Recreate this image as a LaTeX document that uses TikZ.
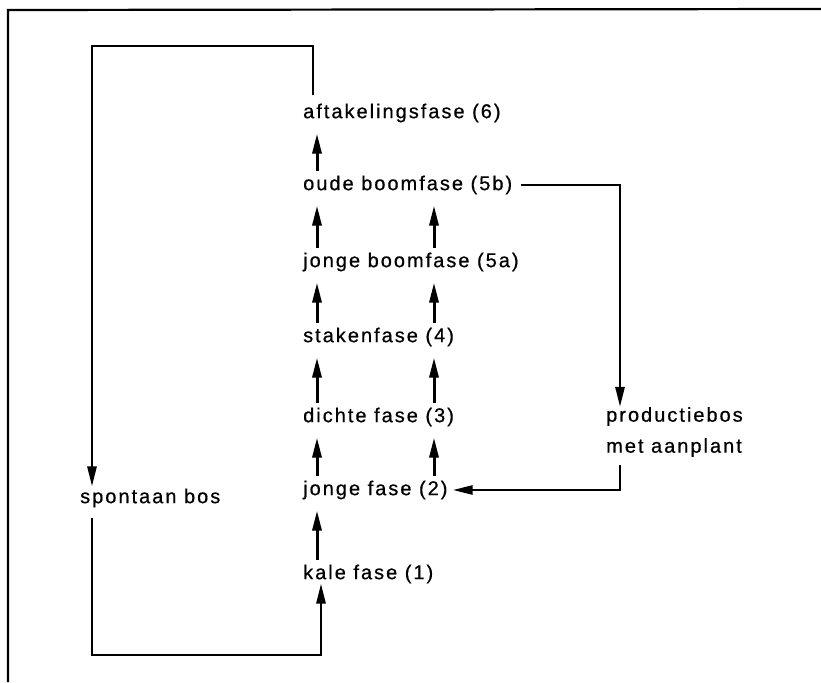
\documentclass[tikz,border=0pt]{standalone}
\usepackage{fontspec}
\setmainfont{Liberation Sans}[LetterSpace=10,FakeBold=0.6]
\usetikzlibrary{arrows.meta}
\begin{document}
\begin{tikzpicture}[x=1pt,y=1pt,
  lbl/.style={anchor=west,inner sep=0pt,font=\fontsize{20}{24}\selectfont},
  colarr/.style={line width=3pt,-{Triangle[length=20pt,width=9pt]},shorten <=4pt,shorten >=11pt},
  loopline/.style={line width=2.6pt},
  tipped/.style={-{Triangle[length=20pt,width=9pt]}}]
\useasboundingbox (0,0) rectangle (821,-682);
% frame
\draw[line width=2.2pt] (8,-682) -- (8,-10) -- (821,-9);
% labels
\node[lbl] (n6) at (303,-113) {aftakelingsfase (6)};
\node[lbl] (n5b) at (303,-185) {oude boomfase (5b)};
\node[lbl] (n5a) at (303,-262) {jonge boomfase (5a)};
\node[lbl] (n4) at (303,-337) {stakenfase (4)};
\node[lbl] (n3) at (303,-417) {dichte fase (3)};
\node[lbl] (n2) at (303,-490) {jonge fase (2)};
\node[lbl] (n1) at (303,-574) {kale fase (1)};
\node[lbl] (sp) at (80,-498) {spontaan bos};
\node[lbl,align=left,font=\fontsize{20}{31}\selectfont] (pr) at (606,-432) {productiebos\\met aanplant};
% column coordinates
\coordinate (c1) at (317,0);
\coordinate (c2) at (434,0);
\foreach \a/\b in {n1/n2,n2/n3,n3/n4,n4/n5a,n5a/n5b,n5b/n6}
  \draw[colarr] (\a.north -| c1) -- (\b.south -| c1);
\foreach \a/\b in {n2/n3,n3/n4,n4/n5a,n5a/n5b}
  \draw[colarr] (\a.north -| c2) -- (\b.south -| c2);
% left loop, top
\coordinate (ta) at (313,-46);
\coordinate (tb) at (92,-46);
\draw[loopline,tipped,shorten <=8pt,shorten >=2pt] (n6.north -| ta) -- (ta) -- (tb) -- (tb |- sp.north);
% left loop, bottom
\coordinate (bc) at (92,-655);
\coordinate (bd) at (321,-655);
\draw[loopline,tipped,shorten <=10pt] (bc |- sp.south) -- (bc) -- (bd) -- (bd |- n1.south);
% right loop
\coordinate (re) at (620,0);
\coordinate (rf) at (620,-490);
\draw[loopline,tipped,shorten <=9pt] (n5b.east) -- (n5b.east -| re) -- (re |- pr.north);
\draw[loopline,tipped,shorten <=8pt,shorten >=5pt] (re |- pr.south) -- (rf) -- (n2.east);
\end{tikzpicture}
\end{document}
